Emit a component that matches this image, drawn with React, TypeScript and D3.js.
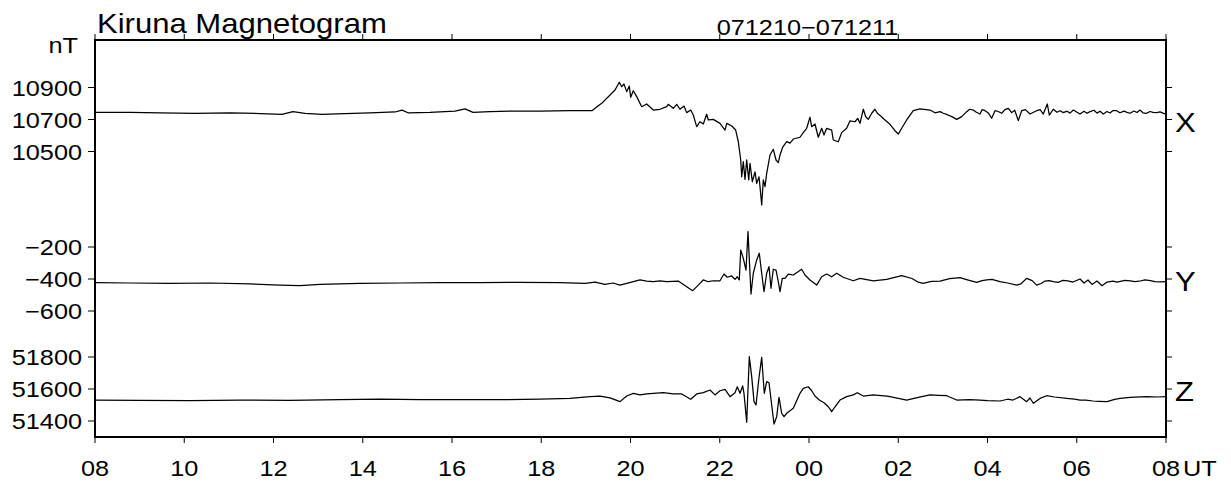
import React from 'react';
import * as d3 from 'd3';

const W = 1231;
const H = 483;

// hours since 08 UT on 071210
const hourTicks = [0, 2, 4, 6, 8, 10, 12, 14, 16, 18, 20, 22, 24];
const hourLabels = ['08', '10', '12', '14', '16', '18', '20', '22', '00', '02', '04', '06', '08'];

const xTicks = [10500, 10700, 10900];
const yTicks = [-600, -400, -200];
const zTicks = [51400, 51600, 51800];
const yTickLabels = ['\u2212600', '\u2212400', '\u2212200'];

// [hour, nT]
const xSeries: [number, number][] = [
  [0, 10745], [0.784, 10744], [1.457, 10742], [2.241, 10739], [3.025, 10741], [3.697, 10737],
  [4.19, 10732], [4.437, 10749], [4.706, 10739], [5.087, 10732], [5.602, 10737], [6.162, 10742],
  [6.723, 10747], [6.88, 10759], [7.014, 10742], [7.507, 10745], [8.067, 10753], [8.291, 10766],
  [8.471, 10745], [8.852, 10749], [9.345, 10753], [9.972, 10753], [10.644, 10755], [11.137, 10755],
  [11.249, 10780], [11.355, 10801], [11.541, 10853], [11.653, 10884], [11.749, 10933], [11.803, 10905],
  [11.854, 10922], [11.915, 10874], [11.973, 10909], [12.004, 10839], [12.063, 10880], [12.139, 10843],
  [12.251, 10780], [12.363, 10797], [12.511, 10759], [12.661, 10764], [12.811, 10780], [12.847, 10795],
  [12.959, 10770], [13.035, 10795], [13.109, 10764], [13.199, 10784], [13.259, 10743], [13.349, 10759],
  [13.407, 10728], [13.483, 10655], [13.557, 10686], [13.631, 10672], [13.707, 10733], [13.743, 10697],
  [13.855, 10701], [14.005, 10676], [14.118, 10634], [14.156, 10676], [14.268, 10659], [14.357, 10634],
  [14.416, 10561], [14.47, 10447], [14.492, 10342], [14.528, 10436], [14.566, 10326], [14.604, 10447],
  [14.649, 10322], [14.678, 10426], [14.73, 10311], [14.79, 10373], [14.828, 10301], [14.88, 10342],
  [14.902, 10280], [14.94, 10166], [14.976, 10322], [15.014, 10280], [15.052, 10363], [15.126, 10478],
  [15.2, 10514], [15.261, 10447], [15.312, 10430], [15.35, 10478], [15.411, 10527], [15.5, 10562],
  [15.574, 10552], [15.648, 10578], [15.798, 10589], [15.872, 10618], [15.948, 10645], [16.022, 10714],
  [16.06, 10655], [16.134, 10672], [16.208, 10589], [16.284, 10645], [16.336, 10603], [16.396, 10645],
  [16.508, 10634], [16.544, 10572], [16.656, 10561], [16.732, 10618], [16.844, 10645], [16.919, 10692],
  [17.031, 10686], [17.091, 10707], [17.143, 10676], [17.217, 10764], [17.271, 10717], [17.329, 10701],
  [17.405, 10739], [17.479, 10764], [17.531, 10739], [17.607, 10722], [17.703, 10697], [17.815, 10670],
  [17.927, 10630], [18.001, 10609], [18.077, 10645], [18.189, 10697], [18.337, 10755], [18.487, 10767],
  [18.711, 10759], [18.824, 10742], [18.936, 10749], [19.009, 10739], [19.1, 10730], [19.2, 10718],
  [19.31, 10701], [19.422, 10718], [19.534, 10749], [19.6, 10764], [19.682, 10759], [19.75, 10745],
  [19.832, 10734], [19.88, 10762], [19.944, 10755], [20.02, 10740], [20.094, 10708], [20.168, 10755],
  [20.24, 10750], [20.318, 10739], [20.39, 10762], [20.466, 10770], [20.542, 10743], [20.61, 10758],
  [20.69, 10693], [20.766, 10755], [20.85, 10762], [20.952, 10734], [21.03, 10745], [21.102, 10755],
  [21.18, 10762], [21.25, 10734], [21.34, 10797], [21.385, 10728], [21.475, 10764], [21.557, 10745],
  [21.625, 10755], [21.699, 10743], [21.782, 10752], [21.849, 10740], [21.923, 10759], [22.006, 10745],
  [22.073, 10734], [22.163, 10752], [22.23, 10739], [22.297, 10749], [22.387, 10758], [22.454, 10740],
  [22.521, 10752], [22.595, 10734], [22.678, 10750], [22.745, 10741], [22.812, 10756], [22.895, 10755],
  [22.969, 10742], [23.059, 10752], [23.126, 10745], [23.193, 10739], [23.283, 10753], [23.35, 10744],
  [23.417, 10759], [23.484, 10742], [23.567, 10739], [23.641, 10750], [23.709, 10744], [23.792, 10743],
  [23.866, 10748], [23.933, 10740], [24.0, 10734],
];

const ySeries: [number, number][] = [
  [0, -423], [0.784, -425], [1.681, -428], [2.577, -425], [3.473, -431], [4.146, -438], [4.594, -441],
  [5.042, -434], [5.938, -428], [6.835, -425], [7.731, -422], [8.627, -423], [9.524, -421], [10.42, -422],
  [10.98, -428], [11.204, -419], [11.429, -434], [11.608, -425], [11.765, -438], [11.915, -427],
  [12.063, -417], [12.213, -406], [12.363, -413], [12.511, -417], [12.661, -411], [12.811, -417],
  [13.071, -413], [13.259, -448], [13.394, -473], [13.519, -438], [13.631, -406], [13.743, -417],
  [13.855, -411], [14.005, -411], [14.095, -369], [14.169, -389], [14.268, -381], [14.342, -402],
  [14.393, -386], [14.438, -406], [14.47, -219], [14.528, -271], [14.588, -344], [14.633, -104],
  [14.7, -494], [14.752, -364], [14.828, -281], [14.886, -239], [14.94, -364], [14.992, -479],
  [15.052, -364], [15.104, -323], [15.148, -458], [15.2, -339], [15.261, -344], [15.312, -417],
  [15.35, -479], [15.402, -396], [15.462, -396], [15.536, -369], [15.648, -375], [15.836, -339],
  [15.91, -375], [16.022, -406], [16.172, -438], [16.284, -386], [16.396, -369], [16.508, -386],
  [16.62, -364], [16.768, -389], [16.992, -411], [17.143, -396], [17.441, -411], [17.741, -402],
  [18.077, -379], [18.308, -397], [18.45, -420], [18.555, -427], [18.75, -415], [18.936, -413],
  [19.15, -398], [19.384, -392], [19.55, -405], [19.758, -421], [19.88, -410], [19.982, -406],
  [20.1, -402], [20.28, -416], [20.45, -425], [20.654, -438], [20.75, -430], [20.878, -396],
  [21.0, -410], [21.102, -438], [21.2, -428], [21.289, -413], [21.38, -410], [21.475, -417],
  [21.58, -421], [21.692, -409], [21.8, -412], [21.916, -419], [22.073, -400], [22.163, -425],
  [22.252, -406], [22.342, -434], [22.454, -413], [22.566, -442], [22.678, -419], [22.813, -413],
  [22.9, -420], [23.081, -409], [23.2, -412], [23.305, -417], [23.4, -414], [23.529, -406],
  [23.65, -410], [23.754, -416], [23.88, -418], [24.0, -417],
];

const zSeries: [number, number][] = [
  [0, 51531], [1.008, 51529], [2.129, 51528], [3.249, 51531], [4.37, 51529], [5.49, 51533],
  [6.387, 51536], [7.283, 51533], [8.179, 51534], [9.076, 51533], [9.972, 51536], [10.644, 51541],
  [11.092, 51553], [11.317, 51556], [11.541, 51544], [11.765, 51521], [11.915, 51556], [12.063, 51573],
  [12.213, 51563], [12.363, 51569], [12.511, 51573], [12.735, 51577], [12.959, 51569], [13.147, 51569],
  [13.349, 51536], [13.483, 51569], [13.631, 51577], [13.782, 51594], [13.894, 51563], [14.005, 51589],
  [14.118, 51598], [14.23, 51552], [14.342, 51577], [14.393, 51614], [14.454, 51573], [14.514, 51619],
  [14.543, 51573], [14.604, 51392], [14.662, 51802], [14.716, 51677], [14.768, 51521], [14.813, 51500],
  [14.873, 51656], [14.94, 51798], [14.998, 51573], [15.052, 51646], [15.104, 51639], [15.164, 51500],
  [15.216, 51381], [15.276, 51427], [15.328, 51548], [15.388, 51448], [15.44, 51427], [15.5, 51448],
  [15.648, 51479], [15.798, 51573], [15.872, 51604], [15.984, 51614], [16.06, 51589], [16.134, 51556],
  [16.231, 51531], [16.336, 51514], [16.433, 51489], [16.508, 51458], [16.583, 51489], [16.695, 51531],
  [16.844, 51552], [16.992, 51563], [17.082, 51577], [17.217, 51556], [17.441, 51563], [17.741, 51556],
  [17.815, 51552], [18.189, 51531], [18.45, 51548], [18.711, 51563], [18.9, 51560], [19.085, 51558],
  [19.31, 51531], [19.6, 51533], [19.832, 51531], [20.0, 51528], [20.28, 51525], [20.45, 51536],
  [20.571, 51531], [20.728, 51552], [20.878, 51521], [20.952, 51544], [21.027, 51511], [21.176, 51541],
  [21.326, 51558], [21.5, 51550], [21.774, 51542], [21.95, 51536], [22.073, 51531], [22.2, 51530],
  [22.364, 51525], [22.5, 51523], [22.678, 51521], [22.85, 51535], [22.969, 51542], [23.2, 51548],
  [23.567, 51552], [23.8, 51550], [24.0, 51552],
];

const FONT = '"Liberation Sans", Arial, Helvetica, sans-serif';
const SX = 1.15;

function T({ x, y, size, anchor = 'start', children }: any) {
  return (
    <text
      transform={`translate(${x},${y}) scale(${SX},1)`}
      fontFamily={FONT}
      fontSize={size}
      textAnchor={anchor}
      fill="#000"
    >
      {children}
    </text>
  );
}

export default function App() {
  const left = 95;
  const right = 1166;
  const top = 40;
  const bottom = 437;

  const t = d3.scaleLinear().domain([0, 24]).range([left, right]);
  const sx = d3.scaleLinear().domain([10500, 10900]).range([151.5, 87.5]);
  const sy = d3.scaleLinear().domain([-600, -200]).range([311, 247]);
  const sz = d3.scaleLinear().domain([51400, 51800]).range([421, 357]);

  const panels = [
    { data: xSeries, scale: sx, ticks: xTicks, labels: xTicks.map(String), name: 'X', mid: 10700 },
    { data: ySeries, scale: sy, ticks: yTicks, labels: yTickLabels, name: 'Y', mid: -400 },
    { data: zSeries, scale: sz, ticks: zTicks, labels: zTicks.map(String), name: 'Z', mid: 51600 },
  ];

  return (
    <svg
      width={W}
      height={H}
      style={{ position: 'absolute', left: 0, top: 0, background: '#fff', display: 'block' }}
    >
      <rect x={0} y={0} width={W} height={H} fill="#fff" />
      {panels.map((p) => {
        const line = d3
          .line<[number, number]>()
          .x((d) => t(d[0]))
          .y((d) => p.scale(d[1]));
        return (
          <path
            key={p.name}
            d={line(p.data) || ''}
            fill="none"
            stroke="#000"
            strokeWidth={1.25}
            strokeLinejoin="round"
          />
        );
      })}
      <rect x={left} y={top} width={right - left} height={bottom - top} fill="none" stroke="#000" strokeWidth={2} />
      {hourTicks.map((h, i) => (
        <g key={'h' + i}>
          <line x1={t(h)} x2={t(h)} y1={top} y2={top - 6} stroke="#000" strokeWidth={1} />
          <line x1={t(h)} x2={t(h)} y1={bottom} y2={bottom + 6} stroke="#000" strokeWidth={1} />
          <T x={t(h)} y={476} size={22} anchor="middle">{hourLabels[i]}</T>
        </g>
      ))}
      <T x={1183} y={476} size={22}>UT</T>
      {panels.map((p) => (
        <g key={'a' + p.name}>
          {p.ticks.map((v, i) => (
            <g key={v}>
              <line x1={left} x2={left - 7} y1={p.scale(v)} y2={p.scale(v)} stroke="#000" strokeWidth={1} />
              <line x1={right} x2={right + 6} y1={p.scale(v)} y2={p.scale(v)} stroke="#000" strokeWidth={1} />
              <T x={82} y={p.scale(v) + 8} size={22} anchor="end">{p.labels[i]}</T>
            </g>
          ))}
          <T x={1175} y={p.scale(p.mid) + 12} size={27}>{p.name}</T>
        </g>
      ))}
      <T x={78} y={53} size={22} anchor="end">nT</T>
      <T x={97} y={33} size={27}>Kiruna Magnetogram</T>
      <T x={807.5} y={35} size={22} anchor="middle">071210{'\u2212'}071211</T>
    </svg>
  );
}
